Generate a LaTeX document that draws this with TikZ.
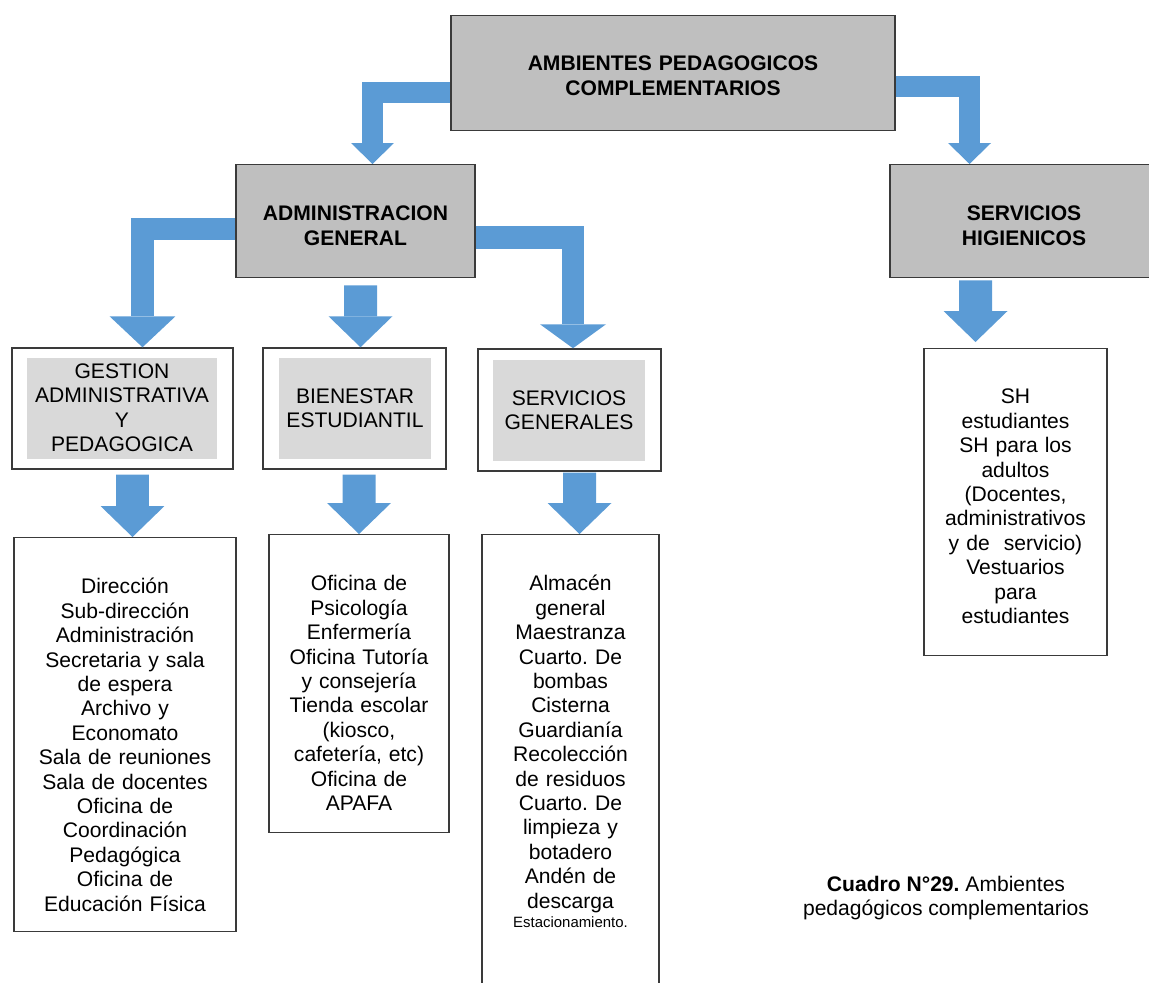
\documentclass[tikz,border=0pt]{standalone}
\usepackage{fontspec}
\setmainfont{Liberation Sans}
\frenchspacing
\usetikzlibrary{arrows.meta}

\definecolor{arrowblue}{HTML}{5B9BD5}
\definecolor{boxgray}{HTML}{BFBFBF}
\definecolor{innergray}{HTML}{D9D9D9}
\definecolor{edgegray}{HTML}{3A3A3A}

\tikzset{
  txt/.style={font=\fontsize{12}{13.9}\selectfont, align=center, inner sep=0pt},
  headbox/.style={txt, font=\fontsize{12}{13.9}\selectfont\bfseries, draw=edgegray, line width=0.85pt, fill=boxgray, anchor=north},
  framebox/.style={draw=edgegray, line width=0.85pt, fill=white, inner sep=0pt},
  graytag/.style={txt, fill=innergray, anchor=north},
  listbox/.style={txt, draw=edgegray, line width=0.85pt, fill=white, anchor=north},
  toparrow/.style={color=arrowblue, line width=0.42cm, -{Triangle[width=0.86cm, length=0.42cm, line width=0pt]}},
  elbowarrow/.style={color=arrowblue, line width=0.45cm, -{Triangle[width=1.32cm, length=#1, line width=0pt]}},
  elbowarrow/.default=0.62cm,
  downarrow/.style={color=arrowblue, line width=0.66cm, -{Triangle[width=1.28cm, length=0.62cm, line width=0pt]}},
}

\begin{document}
\begin{tikzpicture}[x=0.02cm, y=-0.02cm] % one unit = one pixel of the page

        \useasboundingbox (0,0) rectangle (1149,983);

        % Main boxes
        \node[headbox, text width=8.88cm, text height=1.1cm, text depth=1.2cm] (amb) at (673,15)
          {AMBIENTES PEDAGOGICOS\\COMPLEMENTARIOS};
        \node[headbox, text width=4.78cm, text height=1.12cm, text depth=1.14cm] (adm) at (355.5,164)
          {ADMINISTRACION\\GENERAL};
        \node[headbox, text width=5.36cm, text height=1.12cm, text depth=1.14cm] (sh) at (1024,164)
          {SERVICIOS\\HIGIENICOS};

        % Second level: frame with a gray tag inside
        \node[framebox, minimum width=4.42cm, minimum height=2.42cm] (gesframe) at (122.5,408.5) {};
        \node[graytag, text width=3.8cm, text height=0.4cm, text depth=1.62cm] (ges) at (122,358)
          {GESTION\\ADMINISTRATIVA\\Y\\PEDAGOGICA};

        \node[framebox, minimum width=3.66cm, minimum height=2.42cm] (bieframe) at (354.5,408.5) {};
        \node[graytag, text width=3.04cm, text height=0.9cm, text depth=1.12cm] (bie) at (355,358)
          {BIENESTAR\\ESTUDIANTIL};

        \node[framebox, minimum width=3.66cm, minimum height=2.44cm] (sgframe) at (569.5,410) {};
        \node[graytag, text width=3.04cm, text height=0.9cm, text depth=1.12cm] (sg) at (569,360)
          {SERVICIOS\\GENERALES};

        % Lists
        \node[listbox, text width=4.44cm, text height=1.12cm, text depth=6.76cm] (lges) at (125,537)
          {Dirección\\Sub-dirección\\Administración\\Secretaria y sala\\de espera\\Archivo y\\Economato\\Sala de reuniones\\Sala de docentes\\Oficina de\\Coordinación\\Pedagógica\\Oficina de\\Educación Física};
        \node[listbox, text width=3.6cm, text height=1.12cm, text depth=4.84cm] (lbie) at (359,534)
          {Oficina de\\Psicología\\Enfermería\\Oficina Tutoría\\y consejería\\Tienda escolar\\(kiosco,\\cafetería, etc)\\Oficina de\\APAFA};
        \node[listbox, text width=3.54cm, text height=1.12cm, text depth=8.4cm] (lsg) at (570.5,534)
          {Almacén\\general\\Maestranza\\Cuarto. De\\bombas\\Cisterna\\Guardianía\\Recolección\\de residuos\\Cuarto. De\\limpieza y\\botadero\\Andén de\\descarga\\[-3pt]{\fontsize{8.5}{10}\selectfont Estacionamiento.}};
        \node[listbox, text width=3.66cm, text height=1.1cm, text depth=5.04cm] (lsh) at (1015.5,348)
          {SH\\estudiantes\\SH para los\\adultos\\(Docentes,\\administrativos\\y de\ \ servicio)\\Vestuarios\\para\\estudiantes};

        % Caption
        \node[txt] (caption) at (946,898)
          {\textbf{Cuadro N°29.} Ambientes\\pedagógicos complementarios};

        % Arrows
        \draw[toparrow] ([yshift=-0.38cm]amb.west) -| ([xshift=0.34cm]adm.north);
        \draw[toparrow] ([yshift=-0.27cm]amb.east) -| ([xshift=-1.09cm]sh.north);

        \draw[elbowarrow] ([yshift=-0.16cm]adm.west) -| ([xshift=0.4cm]gesframe.north);
        \draw[downarrow] ([xshift=0.1cm, yshift=-0.14cm]adm.south) -- ([xshift=0.12cm]bieframe.north);
        \draw[elbowarrow=0.48cm] ([yshift=-0.33cm]adm.east) -| ([xshift=0.07cm]sgframe.north);

        \draw[downarrow] ([xshift=0.2cm, yshift=-0.1cm]gesframe.south) -- ([xshift=0.15cm]lges.north);
        \draw[downarrow] ([xshift=0.09cm, yshift=-0.1cm]bieframe.south) -- (lbie.north);
        \draw[downarrow] ([xshift=0.2cm, yshift=-0.02cm]sgframe.south) -- ([xshift=0.18cm]lsg.north);
        \draw[downarrow] ([xshift=-0.97cm, yshift=-0.04cm]sh.south) -- ([xshift=-0.8cm, yshift=0.12cm]lsh.north);

\end{tikzpicture}
\end{document}
